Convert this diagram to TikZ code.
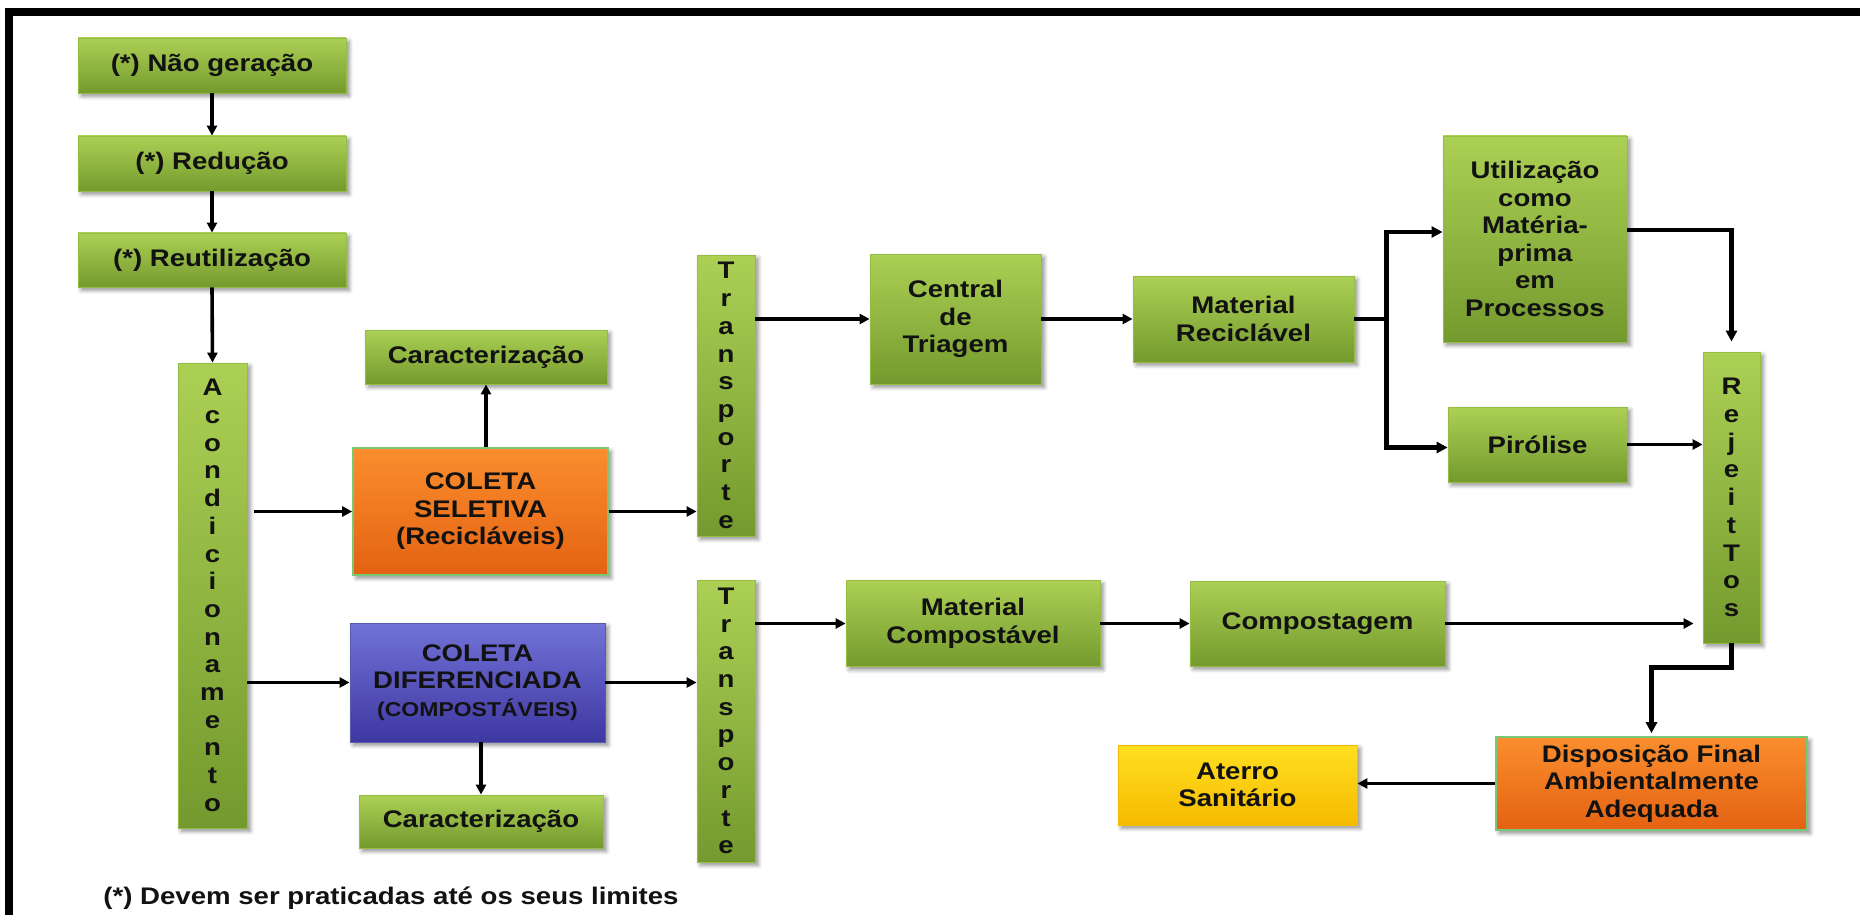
\documentclass[tikz,border=0pt]{standalone}
\usepackage{fontspec}
\setmainfont{Liberation Sans}[FakeStretch=1.15]
\usetikzlibrary{arrows.meta,shadows.blur,calc}
\definecolor{gtop}{RGB}{172,208,84}
\definecolor{gbot}{RGB}{116,154,46}
\definecolor{gedge}{RGB}{150,188,72}
\definecolor{otop}{RGB}{250,142,46}
\definecolor{obot}{RGB}{228,98,18}
\definecolor{oedge}{RGB}{120,200,120}
\definecolor{btop}{RGB}{114,114,214}
\definecolor{bbot}{RGB}{62,56,162}
\definecolor{ytop}{RGB}{255,224,32}
\definecolor{ybot}{RGB}{246,186,0}
\definecolor{txt}{RGB}{18,18,18}
\begin{document}
\begin{tikzpicture}[x=0.5pt,y=-0.5pt,
  box/.style={rectangle, inner sep=0pt, align=center, text=txt,
    font=\fontsize{12}{13.8}\selectfont\bfseries,
    blur shadow={shadow xshift=1.6pt,shadow yshift=-1.6pt,shadow blur steps=4,shadow opacity=45}},
  gbox/.style={box, top color=gtop, bottom color=gbot, draw=gedge, line width=0.4pt},
  obox/.style={box, top color=otop, bottom color=obot, draw=oedge, line width=0.8pt},
  bbox/.style={box, top color=btop, bottom color=bbot, draw=btop!80!black, line width=0.4pt},
  ybox/.style={box, top color=ytop, bottom color=ybot, draw=ybot, line width=0.4pt},
  vbox/.style={gbox, font=\fontsize{12}{13.85}\selectfont\bfseries},
  arr/.style={line width=1.8pt, -{Triangle[length=5pt,width=5pt]}},
  tarr/.style={line width=2.4pt, -{Triangle[length=5.5pt,width=5.5pt]}},
  tline/.style={line width=2.4pt},
]
\useasboundingbox (0,0) rectangle (1860,915);
% frame (top and left bands)
\fill[black] (5,8) rectangle (1860,16);
\fill[black] (5,8) rectangle (13,915);

% left column
\node[gbox, minimum width=134pt, minimum height=27.5pt] (ng) at (212,65.5) {(*) Não geração};
\node[gbox, minimum width=134pt, minimum height=27.5pt] (red) at (212,163.5) {(*) Redução};
\node[gbox, minimum width=134pt, minimum height=27pt] (reu) at (212,260) {(*) Reutilização};
\node[vbox, minimum width=34.5pt, minimum height=232.5pt] (acond) at (212.5,595.5)
  {A\\c\\o\\n\\d\\i\\c\\i\\o\\n\\a\\m\\e\\n\\t\\o};

% collection
\node[gbox, minimum width=121pt, minimum height=27pt] (car1) at (486,357) {Caracterização};
\node[obox, minimum width=127.5pt, minimum height=63.5pt] (cs) at (480.5,511.5) {COLETA\\SELETIVA\\(Recicláveis)};
\node[bbox, minimum width=127.5pt, minimum height=59.5pt] (cd) at (477.5,682.5)
  {COLETA\\DIFERENCIADA\\{\fontsize{10}{12}\selectfont (COMPOSTÁVEIS)}};
\node[gbox, minimum width=122pt, minimum height=26.5pt] (car2) at (481,821.5) {Caracterização};

% transport
\node[vbox, minimum width=29pt, minimum height=140.5pt] (t1) at (726,395.5)
  {T\\r\\a\\n\\s\\p\\o\\r\\t\\e};
\node[vbox, minimum width=29pt, minimum height=141pt] (t2) at (726,721)
  {T\\r\\a\\n\\s\\p\\o\\r\\t\\e};

% recyclables branch
\node[gbox, minimum width=85.5pt, minimum height=65pt] (ct) at (955.5,319) {Central\\de\\Triagem};
\node[gbox, minimum width=110.5pt, minimum height=43pt] (mr) at (1243.5,319) {Material\\Reciclável};
\node[gbox, minimum width=92pt, minimum height=103pt] (ut) at (1535,239)
  {Utilização\\como\\Matéria-\\prima\\em\\Processos};
\node[gbox, minimum width=89.5pt, minimum height=37.5pt] (pir) at (1537.5,444.5) {Pirólise};
\node[vbox, minimum width=28.5pt, minimum height=145.5pt] (rej) at (1731.5,497.5)
  {R\\e\\j\\e\\i\\t\\T\\o\\s};

% compost branch
\node[gbox, minimum width=127pt, minimum height=43pt] (mc) at (973,623.5) {Material\\Compostável};
\node[gbox, minimum width=127.5pt, minimum height=42.5pt] (comp) at (1317.5,623.5) {Compostagem};

% final
\node[obox, minimum width=155.5pt, minimum height=46.5pt] (disp) at (1651.5,783.5)
  {Disposição Final\\Ambientalmente\\Adequada};
\node[ybox, minimum width=119.5pt, minimum height=40pt] (at) at (1237.5,785) {Aterro\\Sanitário};

% footnote
\node[anchor=west, inner sep=0pt, text=txt, font=\fontsize{12}{14}\selectfont\bfseries] (fn) at (103,898)
  {(*) Devem ser praticadas até os seus limites};

% connectors
\draw[arr] (ng) -- (red);
\draw[arr] (red) -- (reu);
\draw[arr] (reu.south) -- (acond.north);
\draw[arr, shorten <=3.5pt] (acond.east |- cs.west) -- (cs.west);
\draw[arr] (acond.east |- cd.west) -- (cd.west);
\draw[arr] (cs.north -| car1.south) -- (car1.south);
\draw[arr] (cd.south -| car2.north) -- (car2.north);
\draw[arr] (cs.east) -- (cs.east -| t1.west);
\draw[arr] (cd.east) -- (cd.east -| t2.west);
\draw[arr] (t1.east |- ct.west) -- (ct.west);
\draw[arr] (ct.east) -- (mr.west);
\coordinate (br) at ($(mr.east)+(32,0)$);
\draw[tline] (mr.east) -- (br);
\draw[tarr] (br) |- ([yshift=3.5pt]ut.west);
\draw[tarr] (br) |- ([yshift=-1.5pt]pir.west);
\draw[tarr, shorten >=5pt] ([yshift=4.5pt]ut.east) -| (rej.north);
\draw[arr] (pir.east) -- (pir.east -| rej.west);
\draw[arr] (t2.east |- mc.west) -- (mc.west);
\draw[arr] (mc.east) -- (comp.west);
\draw[arr, shorten >=4.5pt] (comp.east) -- (comp.east -| rej.west);
\draw[tarr, shorten >=1.5pt] (rej.south) -- ++(0,24) -| (disp.north);
\draw[arr] (disp.west) -- (disp.west -| at.east);
\end{tikzpicture}
\end{document}
